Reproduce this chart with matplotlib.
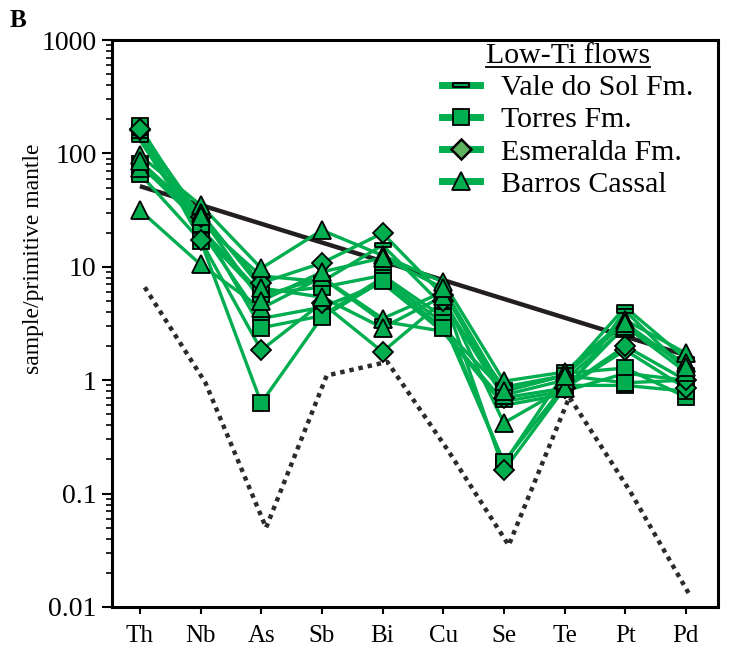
import matplotlib
matplotlib.use("Agg")
import matplotlib.pyplot as plt
import numpy as np
from matplotlib.lines import Line2D
from matplotlib.path import Path
from matplotlib.ticker import FixedLocator, LogLocator, NullFormatter, FuncFormatter

plt.rcParams['font.family'] = ['Liberation Serif', 'DejaVu Serif']

# Elements on the x axis
elements = ['Th', 'Nb', 'As', 'Sb', 'Bi', 'Cu', 'Se', 'Te', 'Pt', 'Pd']

# Low-Ti flow samples, normalised to primitive mantle
vale_do_sol = [
    [170, 24.8, 8.3, 7.4, 15.5, 4.5, 0.87, 1.10, 4.4, 1.55],
    [140, 21.0, 3.5, 4.4, 7.2, 2.66, 0.60, 0.75, 4.1, 1.22],
    [131, 20.0, 5.5, 8.0, 3.3, 2.70, 0.65, 0.80, 1.15, 1.00],
]
torres = [
    [174, 22.0, 5.8, 6.6, 8.4, 3.6, 0.185, 1.15, 1.28, 0.71],
    [80, 24.0, 2.9, 3.7, 8.0, 3.2, 0.19, 0.90, 0.90, 0.80],
    [66, 17.0, 0.63, 3.6, 7.5, 2.9, 0.80, 1.10, 0.95, 1.00],
]
esmeralda = [
    [160, 27.6, 7.2, 10.8, 19.8, 5.6, 0.16, 0.85, 1.84, 0.85],
    [165, 17.2, 1.84, 4.8, 1.78, 5.0, 0.70, 0.85, 2.0, 1.00],
]
barros_cassal = [
    [96, 35.0, 9.7, 21.0, 12.6, 7.35, 0.98, 1.18, 3.4, 1.73],
    [31.5, 10.5, 4.3, 8.1, 3.5, 6.0, 0.74, 1.00, 2.9, 1.41],
    [75, 30.0, 6.5, 5.4, 2.9, 5.5, 0.42, 0.85, 3.0, 1.18],
    [85, 28.0, 5.0, 9.0, 12.0, 6.5, 0.80, 1.10, 3.2, 1.30],
]

# Reference trend (solid black) and depleted profile (dotted)
trend_elements = ['Th', 'Pd']
trend_values = [51.4, 1.66]
dotted_values = [6.6, 0.95, 0.05, 1.1, 1.45, 0.24, 0.035, 0.71, 0.105, 0.0123]

GREEN = '#00AD4F'
LIGHT_GREEN = '#5DB35D'
dash_marker = Path([(-1, -0.25), (1, -0.25), (1, 0.25), (-1, 0.25), (-1, -0.25)],
                   [Path.MOVETO, Path.LINETO, Path.LINETO, Path.LINETO, Path.CLOSEPOLY])

fig = plt.figure(figsize=(7.29, 6.54), dpi=100)
ax = fig.add_axes([112 / 729, 47 / 654, 606 / 729, 567 / 654])

x = np.arange(len(elements))
groups = [
    (vale_do_sol, dash_marker, 12),
    (torres, 's', 12),
    (esmeralda, 'D', 10.5),
    (barros_cassal, '^', 13),
]

# Depleted profile
ax.plot(x + 0.08, dotted_values, color='#2b2b2b', lw=3.2, ls=(0, (1, 1.1)), zorder=1)
# Reference trend
tx = [elements.index(e) for e in trend_elements]
ax.plot(tx, trend_values, color='#231f20', lw=3.2, zorder=1.5, solid_capstyle='butt')

for data, mk, ms in groups:
    for row in data:
        ax.plot(x, row, color=GREEN, lw=2.4, zorder=2, solid_joinstyle='round')
for data, mk, ms in groups:
    for row in data:
        ax.plot(x, row, ls='none', marker=mk, ms=ms, mfc=GREEN, mec='black',
                mew=1.3, zorder=3)

ax.set_yscale('log')
ax.set_ylim(0.01, 1000)
ax.set_xlim(-0.46, 9.53)
ax.set_xticks(x)
ax.set_xticklabels(elements, fontsize=18)
ax.yaxis.set_major_locator(FixedLocator([0.01, 0.1, 1, 10, 100, 1000]))
ax.yaxis.set_major_formatter(FuncFormatter(lambda v, p: f'{v:g}'))
ax.yaxis.set_minor_locator(LogLocator(base=10, subs=np.arange(2, 10), numticks=20))
ax.yaxis.set_minor_formatter(NullFormatter())
ax.tick_params(axis='y', which='major', labelsize=20, direction='out', length=7, width=1.5, pad=4)
ax.tick_params(axis='y', which='minor', direction='out', length=4, width=1.2)
ax.tick_params(axis='x', direction='out', length=5, width=1.5, pad=8)
for s in ax.spines.values():
    s.set_linewidth(2.2)
ax.set_ylabel('sample/primitive mantle', fontsize=17)
ax.yaxis.set_label_coords(-0.112, 0.615)

# Legend
handles = [
    Line2D([], [], color=GREEN, lw=5, marker=dash_marker, ms=12, mfc=GREEN, mec='black', mew=1.5),
    Line2D([], [], color=GREEN, lw=5, marker='s', ms=12, mfc=GREEN, mec='black', mew=1.3),
    Line2D([], [], color=GREEN, lw=5, marker='D', ms=10, mfc=LIGHT_GREEN, mec='black', mew=1.8),
    Line2D([], [], color=GREEN, lw=5, marker='^', ms=13, mfc=GREEN, mec='black', mew=1.3),
]
labels = ['Vale do Sol Fm.', 'Torres Fm.', 'Esmeralda Fm.', 'Barros Cassal']
leg = ax.legend(handles, labels, title='Low-Ti flows', loc='upper left',
                bbox_to_anchor=(0.544, 0.995), frameon=False, fontsize=21.5,
                title_fontsize=21.5, handlelength=1.3, handletextpad=0.7,
                labelspacing=0.18, borderpad=0, borderaxespad=0)

fig.text(10 / 729, 1 - 27 / 654, 'B', fontsize=18, fontweight='bold')

# Underline the legend title
fig.canvas.draw()
bb = leg.get_title().get_window_extent().transformed(fig.transFigure.inverted())
fig.add_artist(Line2D([bb.x0, bb.x1], [bb.y0 + 0.003, bb.y0 + 0.003], color='black', lw=1.3,
                      transform=fig.transFigure))

fig.savefig('out.png', dpi=100)
